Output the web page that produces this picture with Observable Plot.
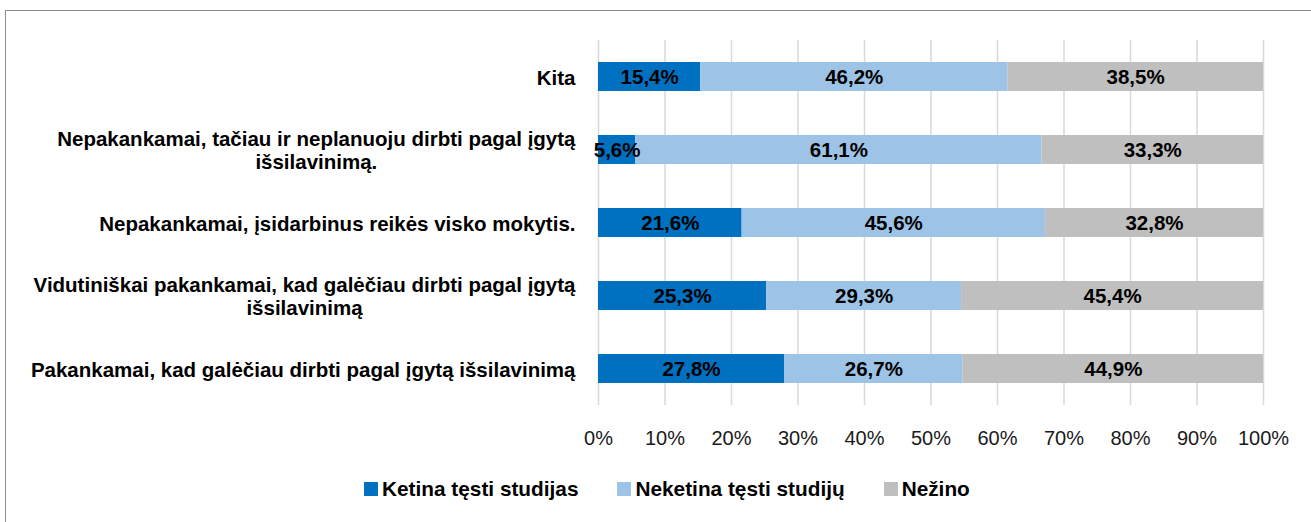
<!DOCTYPE html>
<html>
<head>
<meta charset="utf-8">
<script src="https://cdn.jsdelivr.net/npm/d3@7"></script>
<script src="https://cdn.jsdelivr.net/npm/@observablehq/plot@0.6"></script>
<style>
  html, body { margin: 0; padding: 0; background: #fff; overflow: hidden; }
  body { width: 1311px; height: 522px; position: relative; font-family: "Liberation Sans", Arial, sans-serif; }
  #frame { position: absolute; left: 5px; top: 10px; width: 1400px; height: 600px; border-left: 1.5px solid #8c8c8c; border-top: 1.5px solid #8c8c8c; box-sizing: border-box; }
  #chart { position: absolute; left: 0; top: 0; }
  #legend { position: absolute; left: 364px; top: 477px; display: flex; gap: 39px; align-items: center; font-weight: bold; font-size: 20.8px; color: #000; }
  #legend .item { display: flex; align-items: center; gap: 4px; white-space: nowrap; }
  #legend .sw { width: 14px; height: 14px; display: inline-block; }
</style>
</head>
<body>
<div id="frame"></div>
<div id="chart"></div>
<div id="legend"></div>
<script>
const categories = [
  "Kita",
  "Nepakankamai, tačiau ir neplanuoju dirbti pagal įgytą\nišsilavinimą.",
  "Nepakankamai, įsidarbinus reikės visko mokytis.",
  "Vidutiniškai pakankamai, kad galėčiau dirbti pagal įgytą\nišsilavinimą",
  "Pakankamai, kad galėčiau dirbti pagal įgytą išsilavinimą"
];
const series = ["Ketina tęsti studijas", "Neketina tęsti studijų", "Nežino"];
const ketina = [15.4, 5.6, 21.6, 25.3, 27.8];
const neketina = [46.2, 61.1, 45.6, 29.3, 26.7];
const nezino = [38.5, 33.3, 32.8, 45.4, 44.9];
const colors = ["#0070C0", "#9DC3E6", "#BFBFBF"];
const xTicks = [0, 0.1, 0.2, 0.3, 0.4, 0.5, 0.6, 0.7, 0.8, 0.9, 1];

const seriesValues = [ketina, neketina, nezino];
const data = series.flatMap((s, i) =>
  categories.map((c, j) => ({category: c, series: s, value: seriesValues[i][j]}))
);
const fmt = v => v.toFixed(1).replace(".", ",") + "%";

const chart = Plot.plot({
  width: 1311,
  height: 460,
  marginLeft: 598,
  marginRight: 48,
  marginTop: 40,
  marginBottom: 55,
  x: {domain: [0, 1], axis: null},
  y: {domain: categories, axis: null, paddingInner: 0.6, paddingOuter: 0.3},
  color: {domain: series, range: colors},
  style: {fontFamily: '"Liberation Sans", Arial, sans-serif', fontSize: "20px", color: "#000", background: "transparent"},
  marks: [
    Plot.gridX(xTicks, {stroke: "#d9d9d9", strokeOpacity: 1, strokeWidth: 1.5}),
    Plot.barX(data, Plot.stackX({offset: "normalize", x: "value", y: "category", fill: "series"})),
    Plot.text(data, Plot.stackX({
      offset: "normalize", x: "value", y: "category",
      text: d => fmt(d.value), fontWeight: "bold", fontSize: 20.5, fill: "#000"
    })),
    Plot.axisX({ticks: xTicks, tickFormat: d3.format(".0%"), tickSize: 0, tickPadding: 25, fontSize: 20, color: "#1a1a1a", label: null}),
    Plot.axisY({tickSize: 0, tickPadding: 23, fontWeight: "bold", fontSize: 20.5, lineHeight: 1.15, color: "#000", label: null})
  ]
});
document.getElementById("chart").appendChild(chart);

// center wrapped (multi-line) category labels like the original
chart.querySelectorAll('g[aria-label="y-axis tick label"] text').forEach(t => {
  const spans = t.querySelectorAll("tspan");
  if (spans.length > 1) {
    let w = 0;
    spans.forEach(s => { w = Math.max(w, s.getComputedTextLength()); });
    t.setAttribute("text-anchor", "middle");
    spans.forEach(s => s.setAttribute("x", -w / 2));
  }
});

const legend = document.getElementById("legend");
series.forEach((s, i) => {
  const item = document.createElement("div");
  item.className = "item";
  const sw = document.createElement("span");
  sw.className = "sw";
  sw.style.background = colors[i];
  const label = document.createElement("span");
  label.textContent = s;
  item.appendChild(sw);
  item.appendChild(label);
  legend.appendChild(item);
});
</script>
</body>
</html>
